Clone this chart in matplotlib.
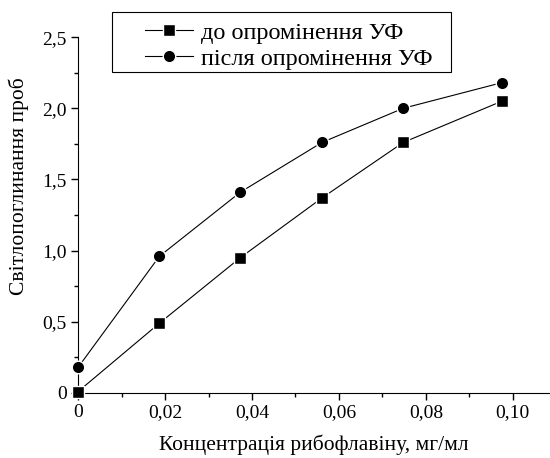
import matplotlib
matplotlib.use('Agg')
import matplotlib.pyplot as plt
from matplotlib.ticker import MultipleLocator
from matplotlib.patches import Rectangle

plt.rcParams['font.family'] = ['Liberation Serif', 'DejaVu Serif']

# концентрація рибофлавіну, мг/мл
conc = [0.0, 0.0187, 0.0373, 0.0561, 0.0748, 0.0975]
before_uv = [0.01, 0.49, 0.95, 1.37, 1.76, 2.05]
after_uv = [0.18, 0.96, 1.41, 1.76, 2.00, 2.18]

x_ticks = [0, 0.02, 0.04, 0.06, 0.08, 0.10]
x_tick_labels = ['0', '0,02', '0,04', '0,06', '0,08', '0,10']
y_ticks = [0, 0.5, 1.0, 1.5, 2.0, 2.5]
y_tick_labels = ['0', '0,5', '1,0', '1,5', '2,0', '2,5']

fig = plt.figure(figsize=(5.5, 4.58), dpi=100)
ax = fig.add_axes([0.142, 0.142, 0.856, 0.777])

ax.plot(conc, before_uv, color='black', linewidth=0.8, marker='s', markersize=8,
        markerfacecolor='black', markeredgecolor='white', markeredgewidth=1.0,
        label='до опромінення УФ', clip_on=False, zorder=3)
ax.plot(conc, after_uv, color='black', linewidth=0.8, marker='o', markersize=9,
        markerfacecolor='black', markeredgecolor='white', markeredgewidth=1.0,
        label='після опромінення УФ', clip_on=False, zorder=3)

ax.set_xlim(0, 0.1083)
ax.set_ylim(0, 2.5)
ax.set_xticks(x_ticks)
ax.set_xticklabels(x_tick_labels)
ax.set_yticks(y_ticks)
ax.set_yticklabels(y_tick_labels)
ax.xaxis.set_minor_locator(MultipleLocator(0.01))
ax.yaxis.set_minor_locator(MultipleLocator(0.25))
ax.tick_params(axis='both', which='major', direction='out', length=5, width=1,
               labelsize=14, pad=3)
ax.tick_params(axis='both', which='minor', direction='out', length=3, width=1)

ax.spines['top'].set_visible(False)
ax.spines['right'].set_visible(False)

ax.set_xlabel('Концентрація рибофлавіну, мг/мл', fontsize=15.5, labelpad=10)
ax.set_ylabel('Світлопоглинання проб', fontsize=15.5)
ax.yaxis.set_label_coords(-0.105, 0.58)

# рамка легенди
fig.patches.append(Rectangle((0.2036, 0.8428), 0.6164, 0.131, transform=fig.transFigure,
                             fill=False, edgecolor='black', linewidth=0.8))
ax.legend(loc='upper left', bbox_to_anchor=(0.264, 0.952), bbox_transform=fig.transFigure,
          fontsize=17.5, frameon=False, handlelength=1.95, handletextpad=0.35,
          borderpad=0, borderaxespad=0, labelspacing=0.15)

fig.savefig('out.png', dpi=100)
